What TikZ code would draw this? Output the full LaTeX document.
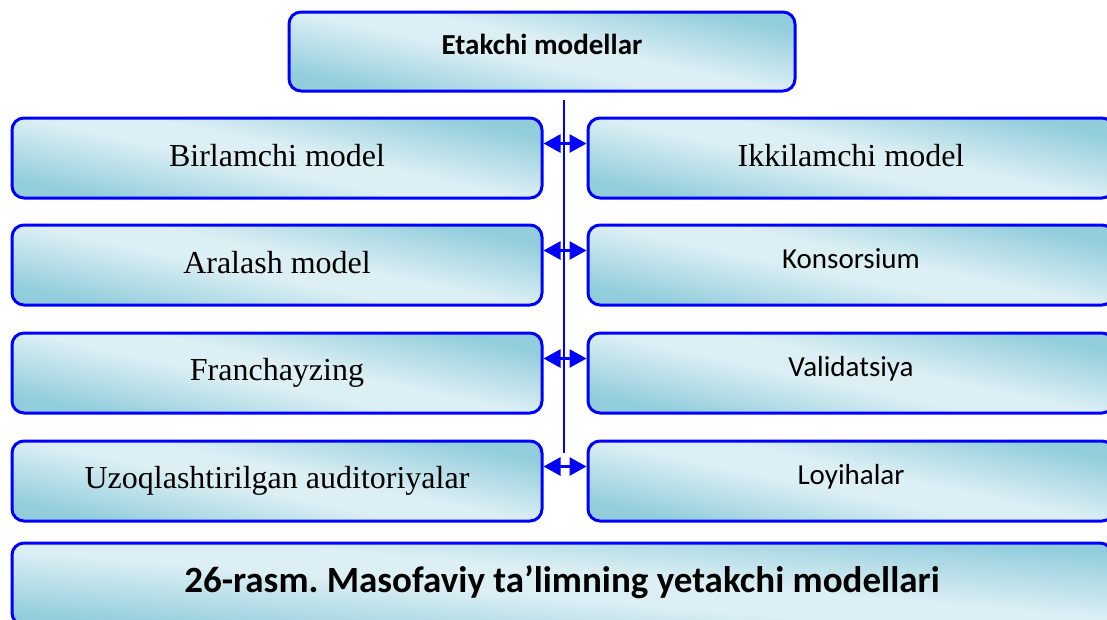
\documentclass[tikz,border=0pt]{standalone}
\usepackage{fontspec}
\setmainfont{Liberation Serif}
\newfontfamily\calib{Carlito}
\usetikzlibrary{arrows.meta,calc}
\definecolor{dk}{RGB}{146,205,220}
\definecolor{lt}{RGB}{220,239,244}
\definecolor{bd}{RGB}{0,0,255}
\pgfdeclarehorizontalshading{band}{100bp}{color(0bp)=(dk); color(26bp)=(dk); color(46bp)=(lt); color(54bp)=(lt); color(74bp)=(dk); color(100bp)=(dk)}
\tikzset{
  box/.style={draw=bd, line width=3pt, rounded corners=12pt, shading=band, shading angle=78, inner sep=0pt, align=center},
  rowbox/.style={box, minimum height=80pt},
  lbox/.style={rowbox, minimum width=530pt},
  rbox/.style={rowbox, minimum width=526pt},
  serif/.style={font=\fontsize{32}{38}\selectfont},
  sans/.style={font=\calib\fontsize{29}{34}\selectfont},
  dbl/.style={draw=bd, line width=2.8pt, {Triangle[length=17pt,width=18pt]}-{Triangle[length=17pt,width=18pt]}},
  vline/.style={draw=bd, line width=2.2pt}
}
\begin{document}
\frenchspacing
\begin{tikzpicture}[x=1pt,y=-1pt]
\useasboundingbox (0,0) rectangle (1107,619);
\clip (0,0) rectangle (1107,619);
% top box
\node[box, minimum width=506pt, minimum height=79pt, font=\calib\bfseries\fontsize{29}{34}\selectfont] (T) at (542,51.5) {\raisebox{14pt}{Etakchi modellar}};
% rows
\node[lbox, serif] (L1) at (277,158) {\raisebox{6pt}{Birlamchi model}};
\node[rbox, serif] (R1) at (851,158) {\raisebox{6pt}{Ikkilamchi model}};
\node[lbox, serif] (L2) at (277,265) {\raisebox{6pt}{Aralash model}};
\node[rbox, sans]  (R2) at (851,265) {\raisebox{13pt}{Konsorsium}};
\node[lbox, serif] (L3) at (277,373) {\raisebox{6pt}{Franchayzing}};
\node[rbox, sans]  (R3) at (851,373) {\raisebox{13pt}{Validatsiya}};
\node[lbox, serif] (L4) at (277,481) {\raisebox{6pt}{Uzoqlashtirilgan auditoriyalar}};
\node[rbox, sans]  (R4) at (851,481) {\raisebox{13pt}{Loyihalar}};
% bottom caption box
\node[box, shading angle=85, minimum width=1100pt, minimum height=82pt, font=\calib\bfseries\fontsize{37}{44}\selectfont] (B) at (562,584) {\raisebox{10pt}{26-rasm. Masofaviy ta’limning yetakchi modellari}};
% vertical line
\coordinate (vt) at (564,100);
\coordinate (vb) at (564,453);
\draw[vline] (vt) -- (vb);
% arrows
\foreach \i in {1,2,3,4}{
  \draw[dbl] ([yshift=-27pt]L\i.north east) -- ([yshift=-27pt]R\i.north west);
}
\end{tikzpicture}
\end{document}
